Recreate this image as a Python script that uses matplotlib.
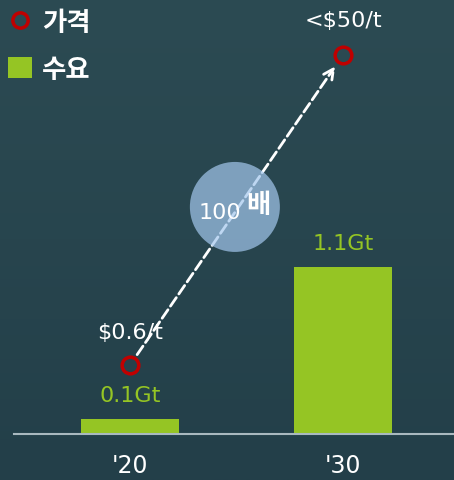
import numpy as np
import matplotlib.pyplot as plt
from matplotlib.lines import Line2D
from matplotlib.patches import Patch, Ellipse

plt.rcParams['font.family'] = ['Noto Sans CJK KR', 'DejaVu Sans']

years = ["'20", "'30"]
demand = [0.1, 1.1]
demand_labels = ['0.1Gt', '1.1Gt']
price = [0.6, 50]
price_labels = ['$0.6/t', '<$50/t']
ratio_label = '100'

green = '#95c524'
red = '#c00000'
x = np.arange(len(years))

fig = plt.figure(figsize=(4.54, 4.81), dpi=100)

# background gradient
bg = fig.add_axes([0, 0, 1, 1], zorder=-10)
grad = np.linspace(0, 1, 256).reshape(-1, 1)
top = np.array([44, 75, 83]) / 255
bot = np.array([35, 63, 73]) / 255
img = top + (bot - top) * grad[:, :, None]
bg.imshow(img, aspect='auto', extent=[0, 1, 0, 1])
bg.axis('off')

ax = fig.add_axes([14 / 454, 46 / 481, 440 / 454, 435 / 481])
ax.patch.set_alpha(0)
ax.bar(x, demand, width=0.46, color=green, zorder=2)
for i in range(len(x)):
    ax.annotate(demand_labels[i], xy=(x[i], demand[i]), xytext=(0, 17), textcoords='offset points',
                color=green, fontsize=16, ha='center', va='center', family='DejaVu Sans')
ax.set_xlim(-0.545, 1.521)
ax.set_ylim(0, 2.865)
ax.set_xticks(x)
ax.set_xticklabels(years, color='white', fontsize=17, family='DejaVu Sans')
ax.tick_params(axis='x', length=0, pad=14)
ax.set_yticks([])
for s in ['top', 'right', 'left']:
    ax.spines[s].set_visible(False)
ax.spines['bottom'].set_color('#a9b9bf')
ax.spines['bottom'].set_linewidth(1.5)

# price on log scale
ax2 = ax.twinx()
ax2.set_yscale('log')
ax2.set_ylim(0.224, 111)
ax2.set_yticks([])
ax2.minorticks_off()
ax2.axis('off')
ax2.plot(x, price, 'o', ms=12, mfc='none', mec=red, mew=2.5, zorder=5)
ax2.annotate('', xy=(x[1], price[1]), xytext=(x[0], price[0]),
             arrowprops=dict(arrowstyle='->', linestyle='--', color='white', lw=2,
                             shrinkA=9, shrinkB=10, mutation_scale=18), zorder=3)
ax2.annotate(price_labels[0], xy=(x[0], price[0]), xytext=(0, 24), textcoords='offset points',
             color='white', fontsize=16, ha='center', va='center', family='DejaVu Sans')
ax2.annotate(price_labels[1], xy=(x[1], price[1]), xytext=(0, 25), textcoords='offset points',
             color='white', fontsize=16, ha='center', va='center', family='DejaVu Sans')

circ = Ellipse((0.502, 0.522), 90 / 440, 90 / 435, transform=ax.transAxes,
               facecolor='#a3c7ed', alpha=0.7, edgecolor='none', zorder=10)
ax2.add_patch(circ)
ax2.text(0.468, 0.510, ratio_label, transform=ax.transAxes, color='white', fontsize=16,
         ha='center', va='center', family='DejaVu Sans', zorder=11)
ax2.text(0.556, 0.527, '배', transform=ax.transAxes, color='white', fontsize=19,
         fontweight='bold', ha='center', va='center', zorder=11)

handles = [Line2D([], [], marker='o', ls='none', ms=11, mfc='none', mec=red, mew=2.5),
           Patch(facecolor=green)]
leg = fig.legend(handles, ['가격', '수요'], loc='upper left', bbox_to_anchor=(0.0, 0.995),
                 frameon=False, fontsize=19, handlelength=0.9, handleheight=0.85,
                 handletextpad=0.38, labelspacing=0.75, borderpad=0.3, borderaxespad=0)
for t in leg.get_texts():
    t.set_color('white')
    t.set_fontweight('bold')

fig.savefig('out.png', dpi=100)
